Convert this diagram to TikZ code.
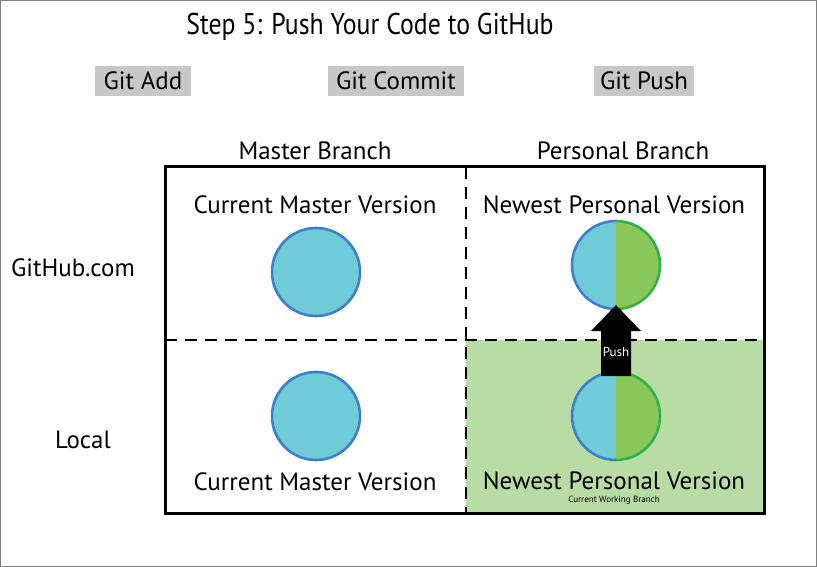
\documentclass[tikz,border=0pt]{standalone}
\usepackage{fontspec}
\setmainfont{PT Sans}
\newfontfamily\titlefont[FakeStretch=0.86]{PT Sans}
\usepackage{tikz}

\definecolor{gitcyan}{HTML}{6ECBD7}
\definecolor{gitblue}{HTML}{3F80CB}
\definecolor{gitgreen}{HTML}{8BC75A}
\definecolor{gitdkgreen}{HTML}{2DB34A}
\definecolor{gitbg}{HTML}{B9DCA5}
\definecolor{gitgray}{HTML}{C8C8C8}

\tikzset{
    stepbtn/.style={fill=gitgray, minimum width=96pt, minimum height=30pt, inner sep=0pt, font=\fontsize{25}{29}\selectfont},
    txtlabel/.style={inner sep=0pt, font=\fontsize{25}{29}\selectfont},
    divider/.style={line width=2.8pt, dash pattern=on 12pt off 8pt}
}

\begin{document}
\begin{tikzpicture}[x=1pt, y=-1pt]
    \useasboundingbox (0,0) rectangle (817,567);
    \draw[gray, line width=1pt] (0.5,0.5) rectangle (816.5,566.5);

    % Titel
    \node[inner sep=0pt, font=\titlefont\fontsize{30}{34}\selectfont] (title) at (370,27) {Step 5: Push Your Code to GitHub};

    % Stappen
    \node[stepbtn] (add) at (143,81) {Git Add};
    \node[stepbtn, minimum width=136pt] (commit) at (396,81) {Git Commit};
    \node[stepbtn, minimum width=100pt] (pushstep) at (644,81) {Git Push};

    % Kolommen en rijen
    \node[txtlabel] (master) at (315,151) {Master Branch};
    \node[txtlabel] (personal) at (623,151) {Personal Branch};
    \node[txtlabel] (github) at (73,268) {GitHub.com};
    \node[txtlabel] (local) at (83,440) {Local};

    % Huidige werkbranch
    \fill[gitbg] (466,340) rectangle (764,513);

    % Scheidingslijnen
    \draw[divider] (165,340) -- (764,340);
    \draw[divider] (466,167) -- (466,513);
    \draw[line width=3pt] (165,167) rectangle (764,513);

    % Master versies
    \filldraw[fill=gitcyan, draw=gitblue, line width=2.6pt] (316,272) circle (44);
    \filldraw[fill=gitcyan, draw=gitblue, line width=2.6pt] (316,416) circle (44);
    \node[txtlabel] (mastertop) at (315,205) {Current Master Version};
    \node[txtlabel] (masterbot) at (315,482) {Current Master Version};

    % Persoonlijke versies
    \foreach \cy in {265,416} {
        \fill[gitcyan] (616,\cy-44) arc[start angle=270, end angle=90, radius=44] -- cycle;
        \fill[gitgreen] (616,\cy-44) arc[start angle=-90, end angle=90, radius=44] -- cycle;
        \draw[gitblue, line width=2.6pt] (616,\cy-44) arc[start angle=270, end angle=90, radius=44];
        \draw[gitdkgreen, line width=2.6pt] (616,\cy-44) arc[start angle=-90, end angle=90, radius=44];
    }
    \node[txtlabel] (newtop) at (614,205) {Newest Personal Version};
    \node[txtlabel] (newbot) at (614,481) {Newest Personal Version};
    \node[inner sep=0pt, font=\fontsize{9}{11}\selectfont] (working) at (614,500) {Current Working Branch};

    % Push pijl
    \fill (601,376) -- (601,331) -- (591,331) -- (616,305) -- (641,331) -- (631,331) -- (631,376) -- cycle;
    \node[white, inner sep=0pt, font=\fontsize{13}{15}\selectfont] (push) at (616,352) {Push};
\end{tikzpicture}
\end{document}
